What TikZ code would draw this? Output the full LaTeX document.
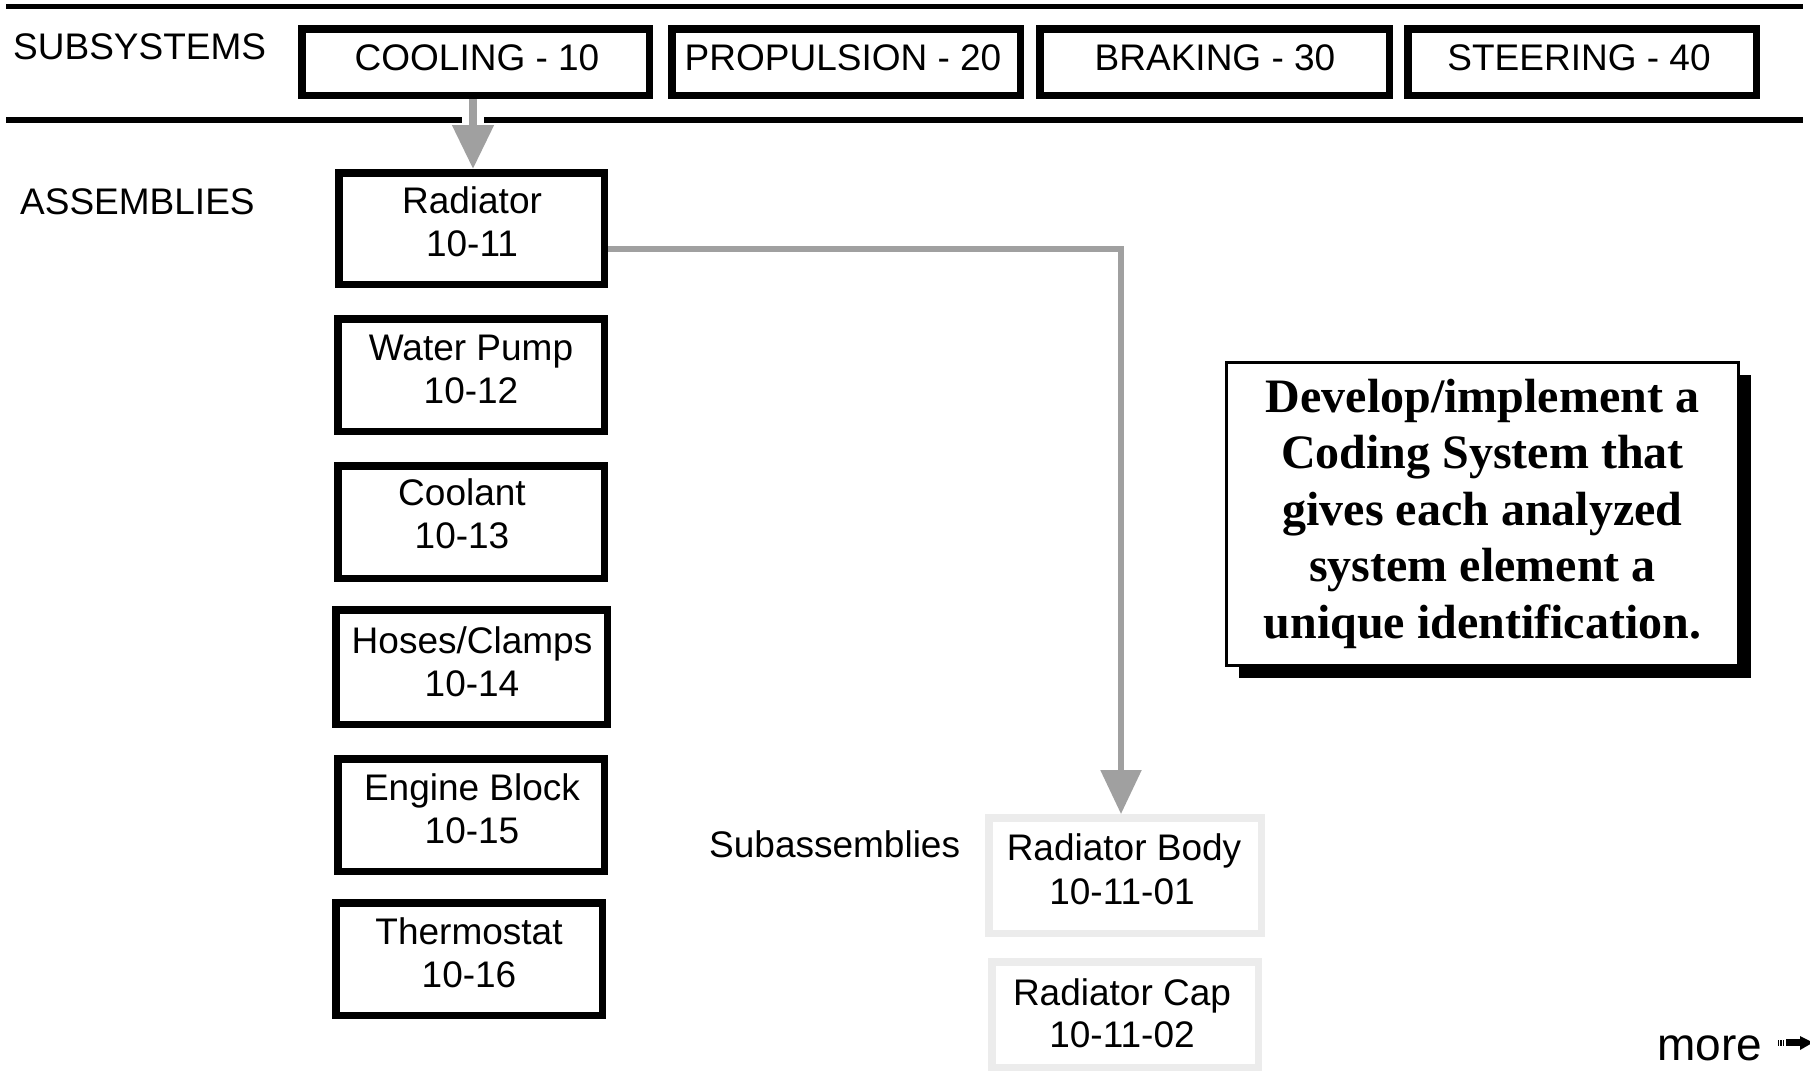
\documentclass[tikz,border=0pt]{standalone}
\usepackage{fontspec}
\setmainfont{Liberation Sans}
\newfontfamily\tnr{Liberation Serif}
\usetikzlibrary{arrows.meta,shadows}
\definecolor{connc}{RGB}{160,160,160}
\definecolor{subbd}{RGB}{236,236,236}
\begin{document}
\begin{tikzpicture}[x=1pt,y=-1pt,
  lbl/.style={anchor=base, inner sep=0pt, font=\fontsize{37}{43}\selectfont},
  lblw/.style={anchor=base west, inner sep=0pt, font=\fontsize{37}{43}\selectfont},
  bigl/.style={anchor=base, inner sep=0pt, font=\tnr\bfseries\fontsize{48}{56}\selectfont},
  topbox/.style={draw=black, line width=7.5pt, fill=white, inner sep=0pt, minimum height=66.5pt},
  asmbox/.style={draw=black, line width=7.5pt, fill=white, inner sep=0pt},
  subbox/.style={draw=subbd, line width=7.5pt, fill=white, inner sep=0pt},
  rulel/.style={draw=black, line width=5.5pt},
  connl/.style={draw=connc, line width=5.5pt, line join=miter},
  tipa/.style={-{Triangle[width=40pt,length=44pt]}},
]
\useasboundingbox (0,0) rectangle (1810,1071);

% horizontal rules
\coordinate (r1a) at (6,6.5);  \coordinate (r1b) at (1803,6.5);
\coordinate (r2a) at (6,120);  \coordinate (r2b) at (1803,120);
\draw[rulel, line width=5pt] (r1a) -- (r1b);
\draw[rulel, line width=6pt] (r2a) -- (r2b);

% row labels
\node[lblw] (lsub) at (13,59.5) {SUBSYSTEMS};
\node[lblw] (lasm) at (20,214) {ASSEMBLIES};
\node[lblw] (lsa) at (709,857) {Subassemblies};

% subsystem boxes
\node[topbox, minimum width=347.5pt] (cool) at (475.5,62) {};
\node[topbox, minimum width=348.5pt] (prop) at (846,62) {};
\node[topbox, minimum width=349.5pt] (brak) at (1214.5,62) {};
\node[topbox, minimum width=348.5pt] (steer) at (1582,62) {};
\node[lbl] (tcool) at (477,70) {COOLING - 10};
\node[lbl] (tprop) at (843,70) {PROPULSION - 20};
\node[lbl] (tbrak) at (1215,70) {BRAKING - 30};
\node[lbl] (tsteer) at (1579,70) {STEERING - 40};

% assembly boxes
\node[asmbox, minimum width=265.5pt, minimum height=111.5pt] (rad) at (471.5,228.5) {};
\node[asmbox, minimum width=266.5pt, minimum height=112.5pt] (pump) at (471,375) {};
\node[asmbox, minimum width=266.5pt, minimum height=112.5pt] (coolant) at (471,522) {};
\node[asmbox, minimum width=271.5pt, minimum height=114.5pt] (hose) at (471.5,667) {};
\node[asmbox, minimum width=266.5pt, minimum height=112.5pt] (eng) at (471,815) {};
\node[asmbox, minimum width=266.5pt, minimum height=112.5pt] (therm) at (469,959) {};

\node[lbl] (trad1) at (472,213.5) {Radiator};
\node[lbl] (trad2) at (472,256.5) {10-11};
\node[lbl] (tpump1) at (471,360) {Water Pump};
\node[lbl] (tpump2) at (471,403) {10-12};
\node[lbl] (tcol1) at (462,505) {Coolant};
\node[lbl] (tcol2) at (462,548) {10-13};
\node[lbl] (those1) at (472,653) {Hoses/Clamps};
\node[lbl] (those2) at (472,696) {10-14};
\node[lbl] (teng1) at (472,800) {Engine Block};
\node[lbl] (teng2) at (472,843) {10-15};
\node[lbl] (tthe1) at (469,944) {Thermostat};
\node[lbl] (tthe2) at (469,987) {10-16};

% subassembly boxes
\node[subbox, minimum width=272.5pt, minimum height=115.5pt] (body) at (1125,875.5) {};
\node[subbox, minimum width=266.5pt, minimum height=105.5pt] (cap) at (1125,1014.5) {};
\node[lbl] (tbody1) at (1124,860) {Radiator Body};
\node[lbl] (tbody2) at (1122,904) {10-11-01};
\node[lbl] (tcap1) at (1122,1005) {Radiator Cap};
\node[lbl] (tcap2) at (1122,1047) {10-11-02};

% connectors
\draw[connl, line width=8pt, tipa, preaction={draw=white, line width=22pt, -}]
  ([xshift=-2.5pt]cool.south) -- ([xshift=1.5pt]rad.north);
\draw[connl, tipa] ([yshift=-20.5pt]rad.east) -| ([xshift=-4pt]body.north);

% statement box
\node[draw=black, line width=3pt, fill=white, inner sep=0pt,
      minimum width=512pt, minimum height=303pt,
      drop shadow={shadow xshift=12pt, shadow yshift=-12pt, opacity=1, fill=black}]
  (big) at (1482.5,514) {};
\node[bigl] (bl1) at (1482.5,412) {Develop/implement a};
\node[bigl] (bl2) at (1482.5,468.5) {Coding System that};
\node[bigl] (bl3) at (1482.5,525) {gives each analyzed};
\node[bigl] (bl4) at (1482.5,581.5) {system element a};
\node[bigl] (bl5) at (1482.5,638) {unique identification.};

% more
\node[anchor=base west, inner sep=0pt, font=\fontsize{46}{50}\selectfont] (more) at (1657,1060) {more};
\fill[black] (1778,1040) rectangle (1779.3,1046);
\fill[black] (1780.4,1040) rectangle (1781.7,1046);
\fill[black] (1782.8,1040) rectangle (1784.1,1046);
\fill[black] (1785.5,1039) rectangle (1802,1046);
\fill[black] (1800,1036) -- (1813,1042.5) -- (1800,1050) -- cycle;
\end{tikzpicture}
\end{document}
